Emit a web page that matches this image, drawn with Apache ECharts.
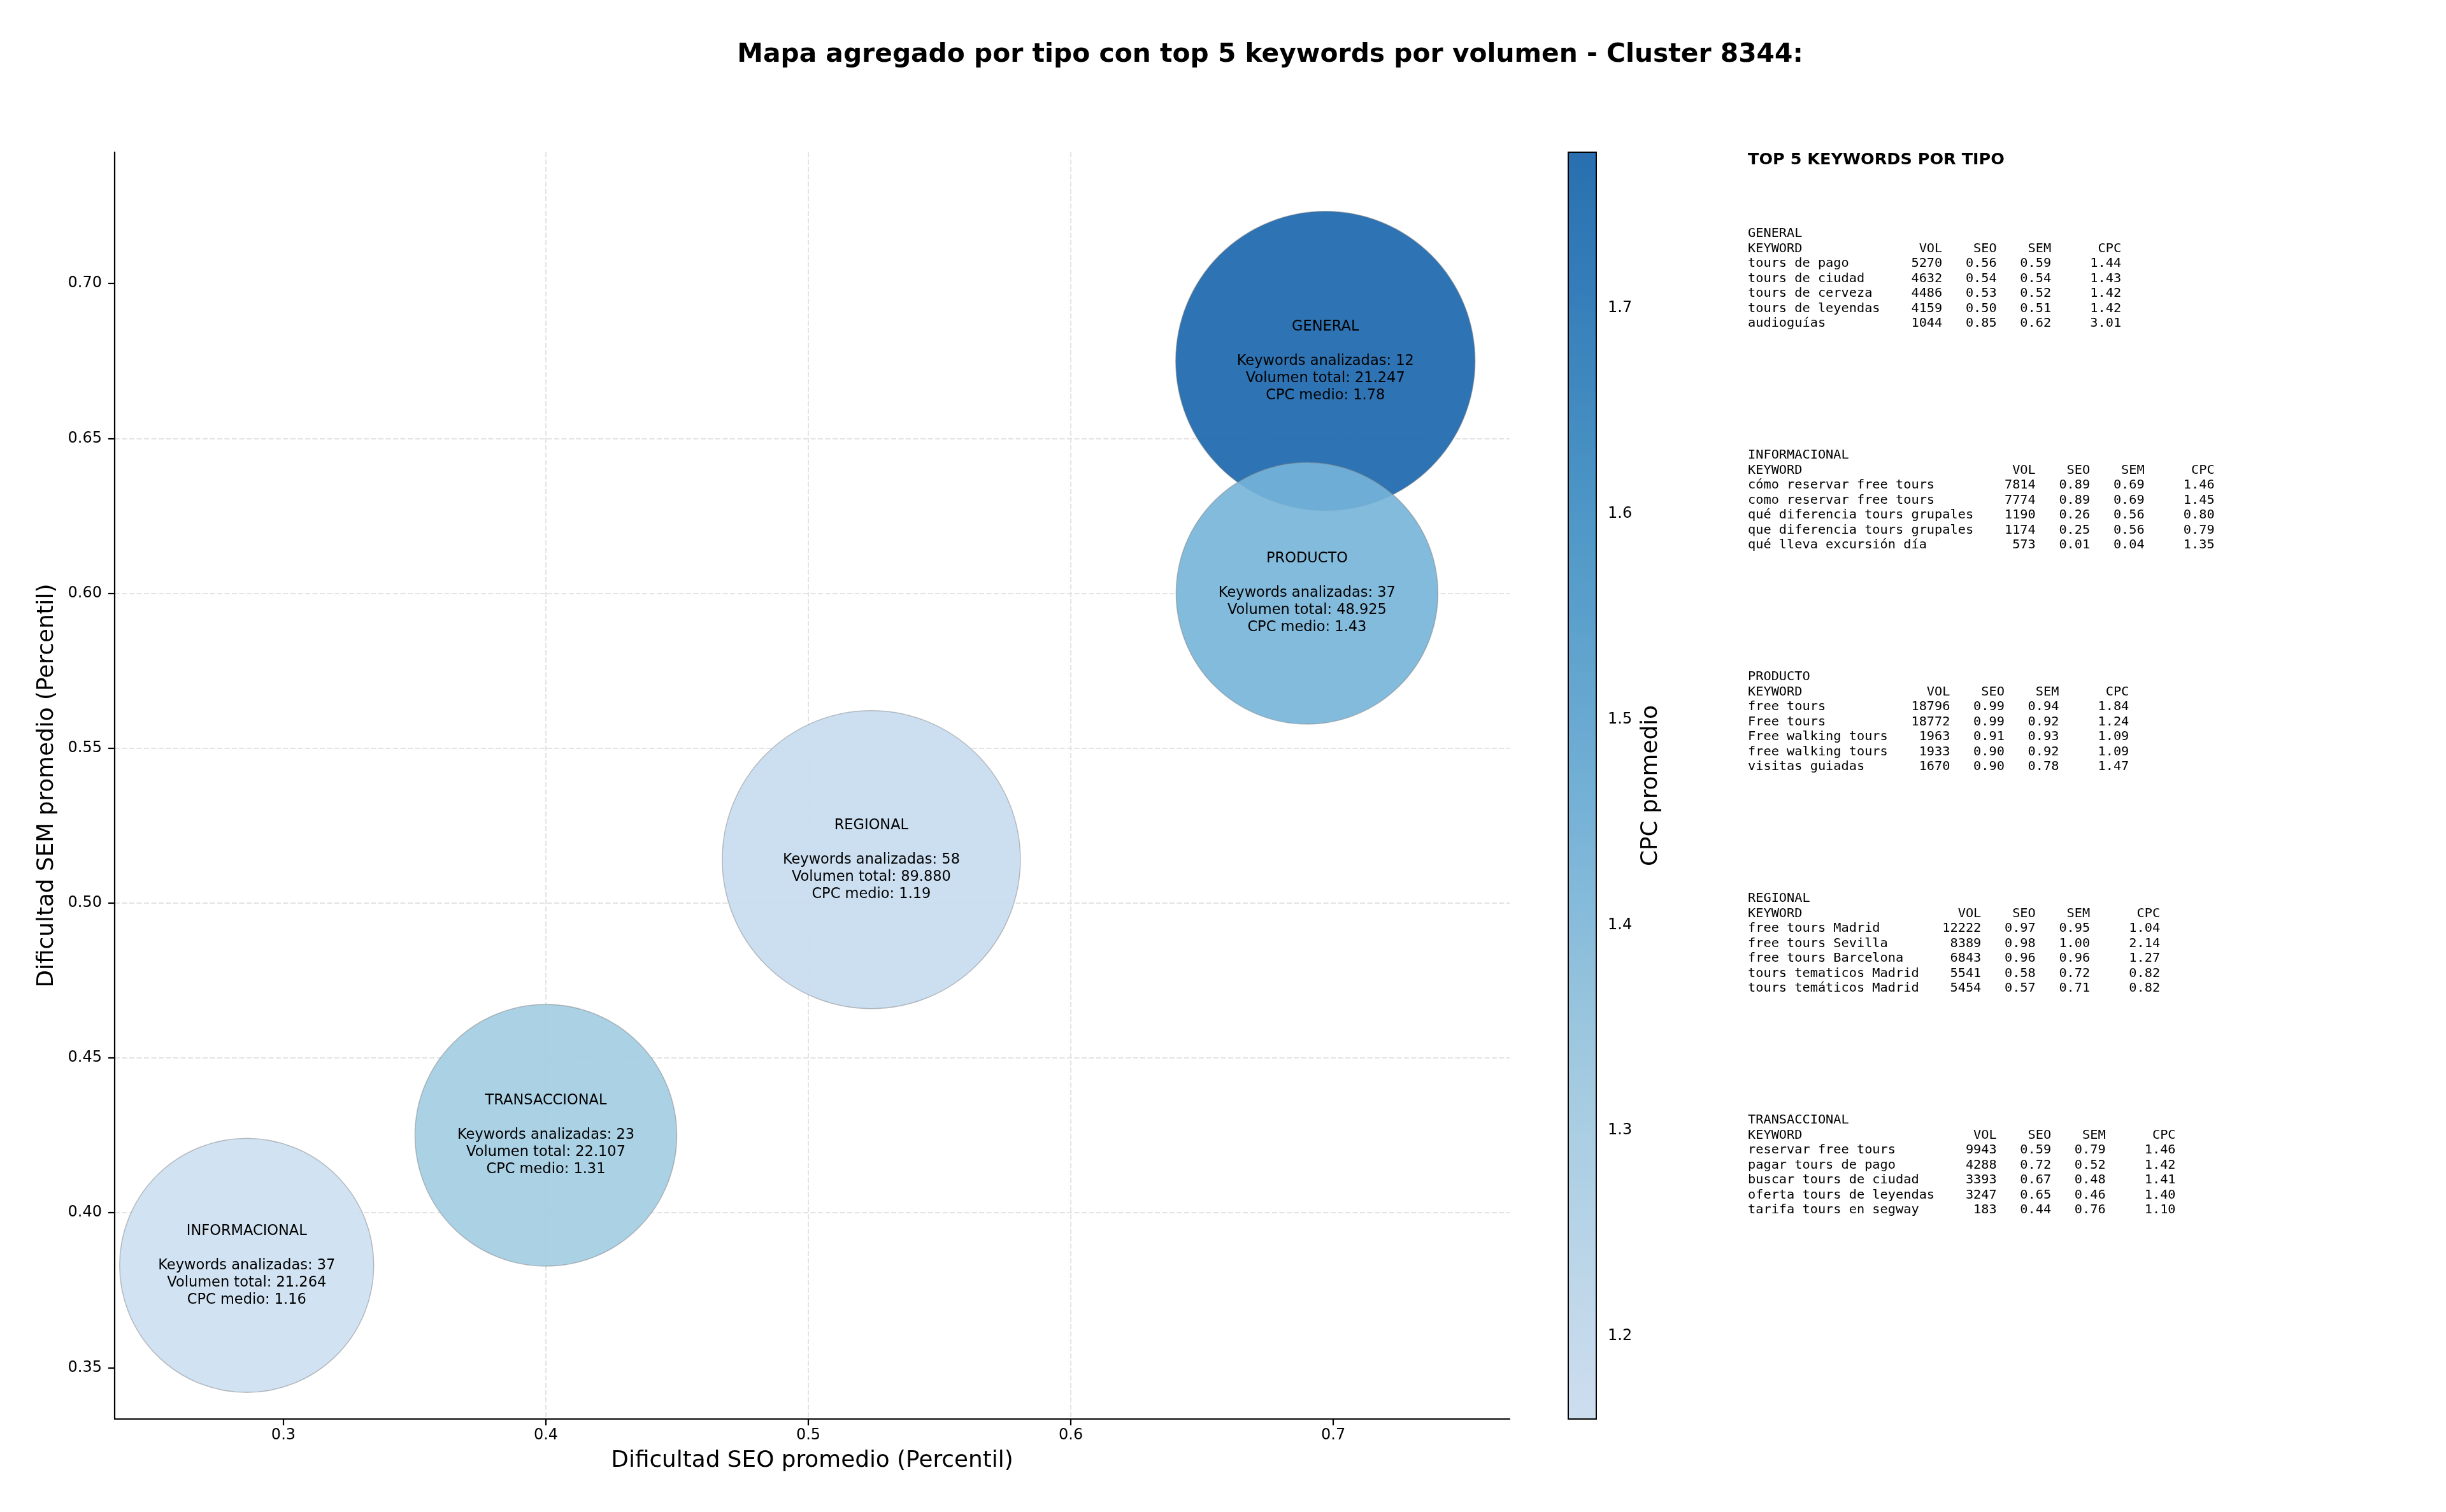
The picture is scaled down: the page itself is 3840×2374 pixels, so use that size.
<!DOCTYPE html>
<html><head><meta charset="utf-8">
<script src="https://cdn.jsdelivr.net/npm/echarts@6/dist/echarts.min.js"></script>
<style>html,body{margin:0;padding:0;background:#fff}#c{width:3840px;height:2374px}</style>
</head><body><div id="c"></div>
<script>
// ---------- DATA ----------
const types = ['GENERAL', 'INFORMACIONAL', 'PRODUCTO', 'REGIONAL', 'TRANSACCIONAL'];
const seoAvg = [0.697, 0.286, 0.690, 0.524, 0.400];
const semAvg = [0.675, 0.383, 0.600, 0.514, 0.425];
const kwCount = [12, 37, 37, 58, 23];
const volTotal = [21247, 21264, 48925, 89880, 22107];
const cpcAvg = [1.776, 1.1596, 1.43, 1.19, 1.31];

const xTicks = [0.3, 0.4, 0.5, 0.6, 0.7];
const yTicks = [0.35, 0.40, 0.45, 0.50, 0.55, 0.60, 0.65, 0.70];
const cpcTicks = [1.2, 1.3, 1.4, 1.5, 1.6, 1.7];

// top 5 keywords: [keyword, vol, seo, sem, cpc]
const topGeneral = [
  ['tours de pago', 5270, 0.56, 0.59, 1.44],
  ['tours de ciudad', 4632, 0.54, 0.54, 1.43],
  ['tours de cerveza', 4486, 0.53, 0.52, 1.42],
  ['tours de leyendas', 4159, 0.50, 0.51, 1.42],
  ['audioguías', 1044, 0.85, 0.62, 3.01]
];
const topInformacional = [
  ['cómo reservar free tours', 7814, 0.89, 0.69, 1.46],
  ['como reservar free tours', 7774, 0.89, 0.69, 1.45],
  ['qué diferencia tours grupales', 1190, 0.26, 0.56, 0.80],
  ['que diferencia tours grupales', 1174, 0.25, 0.56, 0.79],
  ['qué lleva excursión día', 573, 0.01, 0.04, 1.35]
];
const topProducto = [
  ['free tours', 18796, 0.99, 0.94, 1.84],
  ['Free tours', 18772, 0.99, 0.92, 1.24],
  ['Free walking tours', 1963, 0.91, 0.93, 1.09],
  ['free walking tours', 1933, 0.90, 0.92, 1.09],
  ['visitas guiadas', 1670, 0.90, 0.78, 1.47]
];
const topRegional = [
  ['free tours Madrid', 12222, 0.97, 0.95, 1.04],
  ['free tours Sevilla', 8389, 0.98, 1.00, 2.14],
  ['free tours Barcelona', 6843, 0.96, 0.96, 1.27],
  ['tours tematicos Madrid', 5541, 0.58, 0.72, 0.82],
  ['tours temáticos Madrid', 5454, 0.57, 0.71, 0.82]
];
const topTransaccional = [
  ['reservar free tours', 9943, 0.59, 0.79, 1.46],
  ['pagar tours de pago', 4288, 0.72, 0.52, 1.42],
  ['buscar tours de ciudad', 3393, 0.67, 0.48, 1.41],
  ['oferta tours de leyendas', 3247, 0.65, 0.46, 1.40],
  ['tarifa tours en segway', 183, 0.44, 0.76, 1.10]
];
const topLists = [topGeneral, topInformacional, topProducto, topRegional, topTransaccional];

// ---------- STYLE ----------
const bubbleDiameter = {GENERAL: 470, INFORMACIONAL: 399, PRODUCTO: 411, REGIONAL: 468, TRANSACCIONAL: 411};
const BLUES = [[247,251,255],[222,235,247],[198,219,239],[158,202,225],[107,174,214],[66,146,198],[33,113,181],[8,81,156],[8,48,107]];
function blues(t) {
  const p = t * 8, i = Math.min(7, Math.floor(p)), f = p - i;
  return BLUES[i].map((c, k) => Math.round(c + (BLUES[i + 1][k] - c) * f));
}
const cmapColors = [];
for (let j = 0; j <= 28; j++) {
  const c = blues(0.22 + 0.58 * j / 28);
  cmapColors.push('rgba(' + c[0] + ',' + c[1] + ',' + c[2] + ',0.9)');
}
const cpcMin = Math.min(...cpcAvg), cpcMax = Math.max(...cpcAvg);
const FONT = '"DejaVu Sans", sans-serif';
const MONO = '"DejaVu Sans Mono", monospace';

function fmtThousands(v) { return String(v).replace(/\B(?=(\d{3})+(?!\d))/g, '.'); }

function tableBlock(name, rows) {
  const w = Math.max(...rows.map(r => r[0].length)) + 2;
  const lines = [name,
    'KEYWORD'.padEnd(w) + ' ' + 'VOL'.padStart(5) + ' ' + 'SEO'.padStart(6) + ' ' + 'SEM'.padStart(6) + ' ' + 'CPC'.padStart(8)];
  rows.forEach(r => lines.push(
    r[0].padEnd(w) + ' ' + String(r[1]).padStart(5) + ' ' + r[2].toFixed(2).padStart(6) + ' ' +
    r[3].toFixed(2).padStart(6) + ' ' + r[4].toFixed(2).padStart(8)));
  return lines.join('\n');
}

const gridMain = {left: 180, top: 239, width: 2190, height: 1989};
const gridBar = {left: 2462, top: 239, width: 44, height: 1989};

const graphics = [
  {type: 'text', x: 1994, y: 86, z: 100,
   style: {text: 'Mapa agregado por tipo con top 5 keywords por volumen - Cluster 8344:', fontFamily: FONT,
           fontSize: 40.8, fontWeight: 'bold', fill: '#000', align: 'center', verticalAlign: 'middle'}},
  {type: 'text', x: 2744, y: 251, z: 100,
   style: {text: 'TOP 5 KEYWORDS POR TIPO', fontFamily: FONT, fontSize: 25.5, fontWeight: 'bold',
           fill: '#000', align: 'left', verticalAlign: 'middle'}},
  {type: 'rect', z: 100, shape: {x: gridBar.left, y: gridBar.top, width: gridBar.width, height: gridBar.height},
   style: {fill: 'none', stroke: '#000', lineWidth: 2}}
];
types.forEach((t, i) => {
  graphics.push({type: 'text', x: 2744, y: 355 + i * 348, z: 100,
    style: {text: tableBlock(t, topLists[i]), fontFamily: MONO, fontSize: 20.3, lineHeight: 23.5,
            fill: '#000', align: 'left', verticalAlign: 'top'}});
});

const axisLineStyle = {color: '#000', width: 2.2};
const gridLineStyle = {color: '#e3e3e3', width: 2, type: [8, 3.5]};

const option = {
  backgroundColor: '#fff',
  animation: false,
  grid: [
    Object.assign({containLabel: false}, gridMain),
    Object.assign({containLabel: false}, gridBar)
  ],
  xAxis: [
    {type: 'value', gridIndex: 0, min: 0.2357, max: 0.7672, splitNumber: 5,
     name: 'Dificultad SEO promedio (Percentil)', nameLocation: 'middle', nameGap: 48,
     nameTextStyle: {fontFamily: FONT, fontSize: 35.8, color: '#000'},
     axisLine: {show: true, onZero: false, lineStyle: axisLineStyle},
     axisTick: {show: true, length: 10, lineStyle: axisLineStyle, customValues: xTicks},
     axisLabel: {customValues: xTicks, formatter: v => v.toFixed(1), fontFamily: FONT, fontSize: 24, color: '#000', margin: 14},
     splitLine: {show: true, showMinLine: false, showMaxLine: false, lineStyle: gridLineStyle}},
    {type: 'value', gridIndex: 1, min: 0, max: 1, show: false}
  ],
  yAxis: [
    {type: 'value', gridIndex: 0, min: 0.3334, max: 0.7424, splitNumber: 8,
     name: 'Dificultad SEM promedio (Percentil)', nameLocation: 'middle', nameGap: 88, nameRotate: 90,
     nameTextStyle: {fontFamily: FONT, fontSize: 35.8, color: '#000'},
     axisLine: {show: true, onZero: false, lineStyle: axisLineStyle},
     axisTick: {show: true, length: 10, lineStyle: axisLineStyle, customValues: yTicks},
     axisLabel: {customValues: yTicks, formatter: v => v.toFixed(2), fontFamily: FONT, fontSize: 24, color: '#000', margin: 20},
     splitLine: {show: true, showMinLine: false, showMaxLine: false, lineStyle: gridLineStyle}},
    {type: 'value', gridIndex: 1, position: 'right', min: cpcMin, max: cpcMax,
     name: 'CPC promedio', nameLocation: 'middle', nameGap: 68, nameRotate: 90,
     nameTextStyle: {fontFamily: FONT, fontSize: 35.8, color: '#000'},
     axisLine: {show: false},
     axisTick: {show: true, length: 10, lineStyle: {color: '#000', width: 2}, customValues: cpcTicks},
     axisLabel: {customValues: cpcTicks, formatter: v => v.toFixed(1), fontFamily: FONT, fontSize: 24, color: '#000', margin: 18},
     splitLine: {show: false}}
  ],
  visualMap: {
    type: 'continuous', seriesIndex: 0, dimension: 2, min: cpcMin, max: cpcMax,
    left: gridBar.left, top: gridBar.top, itemWidth: gridBar.width, itemHeight: gridBar.height,
    padding: 0, calculable: false, hoverLink: false, realtime: false,
    inRange: {color: cmapColors}
  },
  series: [{
    type: 'scatter', xAxisIndex: 0, yAxisIndex: 0,
    data: types.map((t, i) => ({name: t, value: [seoAvg[i], semAvg[i], cpcAvg[i]]})),
    symbol: 'circle',
    symbolSize: (val, p) => bubbleDiameter[types[p.dataIndex]],
    itemStyle: {opacity: 1, borderColor: 'rgba(120,120,120,0.45)', borderWidth: 1.5},
    label: {
      show: true, position: 'inside', color: '#000', fontFamily: FONT, fontSize: 22.5, lineHeight: 27, align: 'center',
      formatter: p => {
        const i = p.dataIndex;
        return types[i] + '\n\nKeywords analizadas: ' + kwCount[i] + '\nVolumen total: ' + fmtThousands(volTotal[i]) +
          '\nCPC medio: ' + cpcAvg[i].toFixed(2);
      }
    },
    emphasis: {disabled: true}
  }],
  graphic: graphics
};

const chart = echarts.init(document.getElementById('c'));
chart.setOption(option);
</script></body></html>
